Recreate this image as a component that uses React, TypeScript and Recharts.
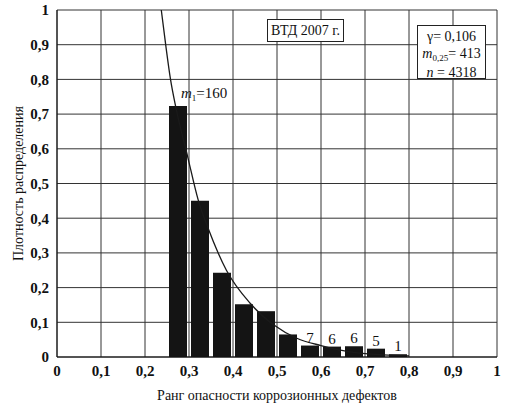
import React from 'react';
import { ComposedChart, Bar, Line, XAxis, YAxis, CartesianGrid, LabelList } from 'recharts';

// histogram bins (centre of each 0.05 bin) and their densities
const binCenters = [0.275, 0.325, 0.375, 0.425, 0.475, 0.525, 0.575, 0.625, 0.675, 0.725, 0.775];
const density = [0.723, 0.45, 0.243, 0.152, 0.132, 0.065, 0.033, 0.03, 0.031, 0.024, 0.008];
const notes = ['m1=160', '', '', '', '', '', '7', '6', '6', '5', '1'];

// fitted density curve
const curveX = [0.237, 0.247, 0.258, 0.27, 0.297, 0.321, 0.345, 0.385, 0.439, 0.493, 0.545, 0.6, 0.665, 0.742, 0.8];
const curveY = [1.0, 0.9, 0.8, 0.72, 0.577, 0.452, 0.366, 0.25, 0.155, 0.092, 0.054, 0.033, 0.015, 0.006, 0.003];

const ticks = [0, 0.1, 0.2, 0.3, 0.4, 0.5, 0.6, 0.7, 0.8, 0.9, 1];

const bars = binCenters.map((x, i) => ({ x, density: density[i], note: notes[i] }));
const curve = curveX.map((x, i) => ({ x, fit: curveY[i] }));

const fmt = (v: number) => (v === 0 ? '0' : v === 1 ? '1' : v.toFixed(1).replace('.', ','));

const FONT = '"Liberation Serif", "Times New Roman", serif';
const tickStyle = { fontSize: 15, fill: '#111', fontFamily: FONT, fontWeight: 'bold' };

const NoteLabel = (props: any) => {
  const { x, y, width, value } = props;
  if (!value) return null;
  if (value.startsWith('m')) {
    return (
      <text x={x + 12} y={y - 8} fontSize={15} fontFamily={FONT} fill="#111">
        <tspan fontStyle="italic">m</tspan>
        <tspan fontSize={9} dy={3}>1</tspan>
        <tspan dy={-3}>=160</tspan>
      </text>
    );
  }
  return (
    <text x={x + width / 2} y={y - 3} fontSize={15} fontFamily={FONT} fill="#111" textAnchor="middle">
      {value}
    </text>
  );
};

const boxStyle: React.CSSProperties = {
  position: 'absolute',
  background: '#fff',
  border: '1px solid #222',
  fontFamily: FONT,
  fontSize: 14,
  color: '#111',
  textAlign: 'center',
  boxSizing: 'border-box',
};

export default function App() {
  return (
    <div style={{ position: 'absolute', left: 0, top: 0, width: 508, height: 410, background: '#fff', fontFamily: FONT }}>
      <style>{`svg text { font-family: "Liberation Serif", "Times New Roman", serif !important; }`}</style>
      <ComposedChart width={508} height={410} data={bars} margin={{ top: 10, right: 11, left: 0, bottom: 0 }}>
        <CartesianGrid stroke="#333" strokeWidth={1} />
        <XAxis
          dataKey="x"
          type="number"
          domain={[0, 1]}
          ticks={ticks}
          tickFormatter={fmt}
          allowDataOverflow
          tickLine={false}
          axisLine={{ stroke: '#111' }}
          tick={tickStyle}
          height={53}
          label={{
            value: 'Ранг опасности коррозионных дефектов',
            position: 'insideBottom',
            offset: 10,
            style: { fontSize: 14, fill: '#111', fontFamily: FONT },
          }}
        />
        <XAxis xAxisId="curve" dataKey="x" type="number" domain={[0, 1]} allowDataOverflow hide />
        <YAxis
          type="number"
          domain={[0, 1]}
          ticks={ticks}
          tickFormatter={fmt}
          allowDataOverflow
          tickLine={false}
          axisLine={{ stroke: '#111' }}
          tick={tickStyle}
          width={57}
          label={{
            value: 'Плотность распределения',
            angle: -90,
            position: 'insideLeft',
            offset: 18,
            style: { fontSize: 14, fill: '#111', fontFamily: FONT, textAnchor: 'middle' },
          }}
        />
        <Bar dataKey="density" fill="#141414" barSize={18} isAnimationActive={false}>
          <LabelList dataKey="note" content={NoteLabel} />
        </Bar>
        <Line
          xAxisId="curve"
          data={curve}
          dataKey="fit"
          type="monotone"
          stroke="#1a1a1a"
          strokeWidth={1.3}
          dot={false}
          isAnimationActive={false}
        />
      </ComposedChart>
      <div style={{ ...boxStyle, left: 267, top: 19, width: 77, height: 23, lineHeight: '21px' }}>ВТД 2007 г.</div>
      <div style={{ ...boxStyle, left: 417, top: 25, width: 69, height: 54, lineHeight: '17px', paddingTop: 2 }}>
        <div>γ= 0,106</div>
        <div>
          <i>m</i>
          <sub style={{ fontSize: 9, verticalAlign: 'baseline', position: 'relative', top: 3 }}>0,25</sub>= 413
        </div>
        <div>
          <i>n</i> = 4318
        </div>
      </div>
    </div>
  );
}
